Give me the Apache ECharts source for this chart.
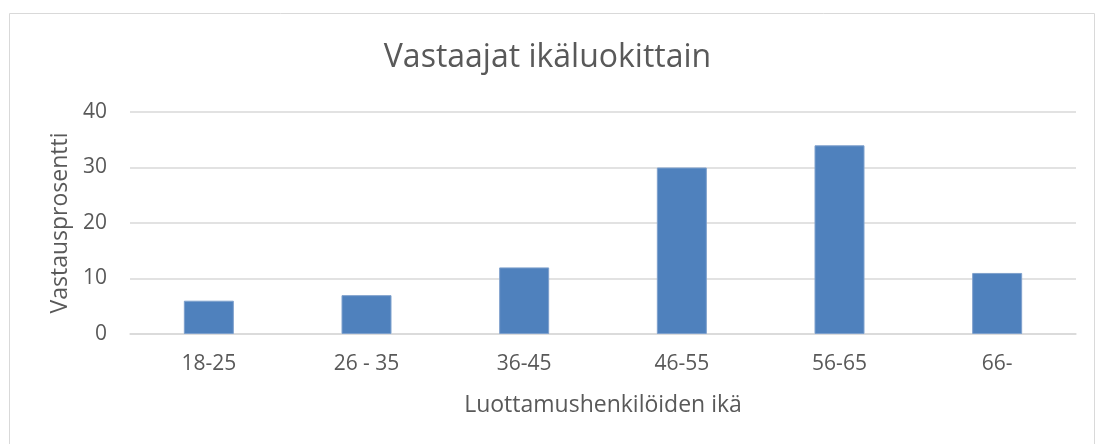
<!DOCTYPE html>
<html>
<head>
<meta charset="utf-8">
<title>Vastaajat ikäluokittain</title>
<script src="https://cdn.jsdelivr.net/npm/echarts@6/dist/echarts.min.js"></script>
<style>
  html, body { margin: 0; padding: 0; background: #fff; }
  #main { width: 1095px; height: 444px; }
</style>
</head>
<body>
<div id="main"></div>
<script type="text/javascript">
  // data
  var categories = ['18-25', '26 - 35', '36-45', '46-55', '56-65', '66-'];
  var values = [6, 7, 12, 30, 34, 11];
  var yTicks = { min: 0, max: 40, interval: 10 };

  var textColor = '#595959';
  var font = '"Open Sans", "Noto Sans", sans-serif';

  var myChart = echarts.init(document.getElementById('main'));

  var option = {
    animation: false,
    textStyle: { fontFamily: font },
    // thin outer frame of the chart area
    graphic: [{
      type: 'rect',
      shape: { x: 9.5, y: 13.5, width: 1085, height: 440 },
      style: { fill: 'none', stroke: '#d9d9d9', lineWidth: 1 },
      silent: true
    }],
    title: {
      text: 'Vastaajat ikäluokittain',
      left: 'center',
      top: 37,
      textStyle: { color: textColor, fontSize: 32, fontWeight: 'normal', fontFamily: font }
    },
    grid: { left: 130, right: 19, top: 112, bottom: 110 },
    xAxis: {
      type: 'category',
      data: categories,
      name: 'Luottamushenkilöiden ikä',
      nameLocation: 'middle',
      nameGap: 60,
      nameTextStyle: { color: textColor, fontSize: 23, fontFamily: font },
      axisLine: { show: true, lineStyle: { color: '#d9d9d9', width: 1.5 } },
      axisTick: { show: false },
      axisLabel: { color: textColor, fontSize: 21, margin: 20, fontFamily: font }
    },
    yAxis: {
      type: 'value',
      min: yTicks.min,
      max: yTicks.max,
      interval: yTicks.interval,
      name: 'Vastausprosentti',
      nameLocation: 'middle',
      nameGap: 58,
      nameTextStyle: { color: textColor, fontSize: 23, fontFamily: font },
      axisLine: { show: false },
      axisTick: { show: false },
      axisLabel: { color: textColor, fontSize: 21, margin: 23, fontFamily: font },
      splitLine: { lineStyle: { color: '#d9d9d9', width: 1.5 } }
    },
    series: [{
      type: 'bar',
      data: values,
      barWidth: 50,
      itemStyle: { color: '#4f81bd', borderColor: '#7fa1cd', borderWidth: 1 }
    }]
  };

  myChart.setOption(option);
</script>
</body>
</html>
